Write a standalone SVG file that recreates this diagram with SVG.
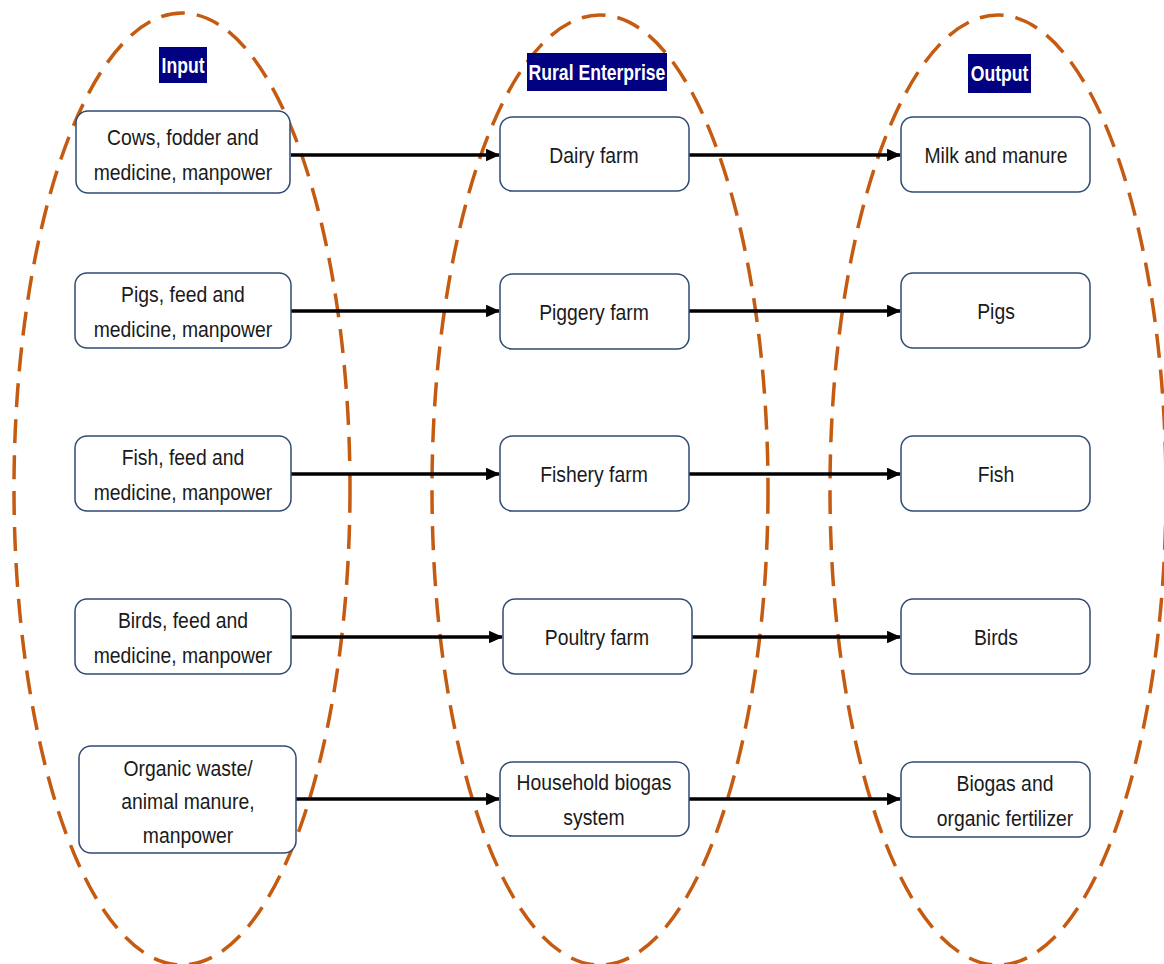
<svg xmlns="http://www.w3.org/2000/svg" width="1164" height="964" viewBox="0 0 1164 964">
<style>
.ell{fill:none;stroke:#C55A11;stroke-width:3.5;stroke-dasharray:24 12}
.box{fill:#fff;stroke:#2F4A73;stroke-width:1.5}
.t{font-family:"Liberation Sans",Arial,sans-serif;font-size:22px;fill:#1a1a1a;text-anchor:middle;transform-box:fill-box;transform-origin:center;transform:scaleX(0.88)}
.h{font-family:"Liberation Sans",Arial,sans-serif;font-size:22px;font-weight:bold;fill:#fff;text-anchor:middle;transform-box:fill-box;transform-origin:center;transform:scaleX(0.8)}
.hb{fill:#000080}
.c{stroke:#000;stroke-width:3.5;fill:none;marker-end:url(#ah)}
</style>
<defs>
<marker id="ah" markerWidth="4" markerHeight="3.6" refX="3.7" refY="1.8" orient="auto" markerUnits="strokeWidth">
<path d="M0,0 L4,1.8 L0,3.6 z" fill="#000"/>
</marker>
</defs>
<g id="groups">
<ellipse class="ell" cx="182" cy="489" rx="168" ry="476"/>
<ellipse class="ell" cx="600" cy="490" rx="168" ry="475"/>
<ellipse class="ell" cx="998" cy="490" rx="168" ry="475"/>
</g>
<g id="headers">
<rect class="hb" x="159" y="47" width="48" height="36"/>
<text class="h" x="183" y="73">Input</text>
<rect class="hb" x="527" y="53" width="140" height="38"/>
<text class="h" x="597" y="80">Rural Enterprise</text>
<rect class="hb" x="968" y="54" width="63" height="39"/>
<text class="h" x="999.5" y="81">Output</text>
</g>
<g id="connectors">
<line class="c" x1="291" y1="155" x2="499" y2="155"/>
<line class="c" x1="689" y1="155" x2="900" y2="155"/>
<line class="c" x1="291" y1="311" x2="499" y2="311"/>
<line class="c" x1="689" y1="311" x2="900" y2="311"/>
<line class="c" x1="291" y1="474" x2="499" y2="474"/>
<line class="c" x1="689" y1="474" x2="900" y2="474"/>
<line class="c" x1="291" y1="637" x2="502" y2="637"/>
<line class="c" x1="692" y1="637" x2="900" y2="637"/>
<line class="c" x1="296" y1="799" x2="499" y2="799"/>
<line class="c" x1="689" y1="799" x2="900" y2="799"/>
</g>
<g id="in1"><rect class="box" x="76" y="111" width="214" height="82" rx="12"/><text class="t" x="183" y="145">Cows, fodder and</text><text class="t" x="183" y="180">medicine, manpower</text></g>
<g id="in2"><rect class="box" x="75" y="273" width="216" height="75" rx="12"/><text class="t" x="183" y="302">Pigs, feed and</text><text class="t" x="183" y="337">medicine, manpower</text></g>
<g id="in3"><rect class="box" x="75" y="436" width="216" height="75" rx="12"/><text class="t" x="183" y="465">Fish, feed and</text><text class="t" x="183" y="500">medicine, manpower</text></g>
<g id="in4"><rect class="box" x="75" y="599" width="216" height="75" rx="12"/><text class="t" x="183" y="628">Birds, feed and</text><text class="t" x="183" y="663">medicine, manpower</text></g>
<g id="in5"><rect class="box" x="79" y="746" width="217" height="107" rx="12"/><text class="t" x="188" y="776">Organic waste/</text><text class="t" x="188" y="809">animal manure,</text><text class="t" x="188" y="843">manpower</text></g>
<g id="mid1"><rect class="box" x="500" y="117" width="189" height="74" rx="12"/><text class="t" x="594" y="163">Dairy farm</text></g>
<g id="mid2"><rect class="box" x="500" y="274" width="189" height="75" rx="12"/><text class="t" x="594" y="320">Piggery farm</text></g>
<g id="mid3"><rect class="box" x="500" y="436" width="189" height="75" rx="12"/><text class="t" x="594" y="482">Fishery farm</text></g>
<g id="mid4"><rect class="box" x="503" y="599" width="189" height="75" rx="12"/><text class="t" x="597" y="645">Poultry farm</text></g>
<g id="mid5"><rect class="box" x="500" y="762" width="189" height="74" rx="12"/><text class="t" x="594" y="790">Household biogas</text><text class="t" x="594" y="825">system</text></g>
<g id="out1"><rect class="box" x="901" y="117" width="189" height="75" rx="12"/><text class="t" x="996" y="163">Milk and manure</text></g>
<g id="out2"><rect class="box" x="901" y="273" width="189" height="75" rx="12"/><text class="t" x="996" y="319">Pigs</text></g>
<g id="out3"><rect class="box" x="901" y="436" width="189" height="75" rx="12"/><text class="t" x="996" y="482">Fish</text></g>
<g id="out4"><rect class="box" x="901" y="599" width="189" height="75" rx="12"/><text class="t" x="996" y="645">Birds</text></g>
<g id="out5"><rect class="box" x="901" y="762" width="189" height="75" rx="12"/><text class="t" x="1005" y="791">Biogas and</text><text class="t" x="1005" y="826">organic fertilizer</text></g>
</svg>
